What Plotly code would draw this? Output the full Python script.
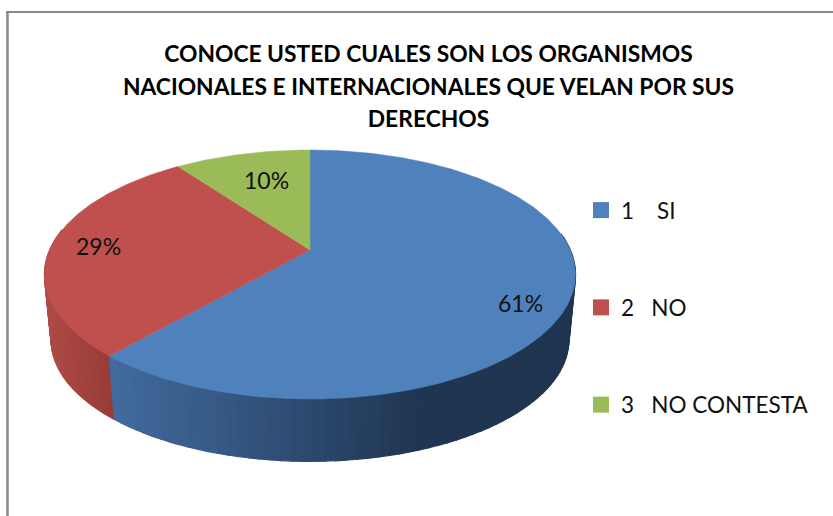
import math
import plotly.graph_objects as go

CATEGORIES = ["1", "2", "3"]
NB = "\u00a0"
LEGEND_NAMES = ["1" + NB * 4 + "SI", "2" + NB * 3 + "NO", "3" + NB * 3 + "NO CONTESTA"]
VALUES = [61.4, 28.6, 10.0]
TOP_COLORS = ["#4f81bd", "#c0504d", "#9bbb59"]
TITLE_LINES = [
    "CONOCE USTED CUALES SON LOS ORGANISMOS",
    "NACIONALES E INTERNACIONALES QUE VELAN POR SUS",
    "DERECHOS",
]

# pie geometry (pixel-space canvas)
CX, CY = 310.0, 250.0
A, B, K = 260.3, 119.7, 0.1968
BOTTOM_SCALE, BOTTOM_Y = 0.975, 316.0


def project(theta, r=1.0, scale=1.0, cy=CY):
    u, v = math.sin(theta) * r, math.cos(theta) * r
    d = 1 + K * v
    return CX + scale * A * u / d, cy - scale * B * v / d


def frange(a, b, step=0.01):
    n = max(2, int(abs(b - a) / step))
    return [a + (b - a) * i / n for i in range(n + 1)]


def lerp_color(stops, t):
    for (t0, c0), (t1, c1) in zip(stops, stops[1:]):
        if t <= t1:
            f = (t - t0) / (t1 - t0) if t1 > t0 else 0
            rgb = [round(c0[i] + (c1[i] - c0[i]) * f) for i in range(3)]
            return "rgb(%d,%d,%d)" % tuple(rgb)
    return "rgb(%d,%d,%d)" % tuple(stops[-1][1])


BLUE_WALL = [(0.0, (0x42, 0x6b, 0x9e)), (0.4, (0x2e, 0x4c, 0x73)), (0.7, (0x1f, 0x35, 0x50)), (1.0, (0x1f, 0x35, 0x50))]
RED_WALL = [(0.0, (0xa8, 0x47, 0x43)), (1.0, (0x96, 0x3c, 0x39))]

total = sum(VALUES)
bounds = [0.0]
for v in VALUES:
    bounds.append(bounds[-1] + v / total * 2 * math.pi)

fig = go.Figure()

# side wall: visible from the right-hand extreme round the front to the left extreme
WALL_START = math.radians(82)
WALL_END = math.radians(280)
N = 70
for idx, stops in ((1, RED_WALL), (0, BLUE_WALL)):
    a0 = max(bounds[idx], WALL_START)
    a1 = min(bounds[idx + 1], WALL_END)
    x_left = min(project(a0)[0], project(a1)[0])
    x_right = max(project(a0)[0], project(a1)[0])
    for i in range(N):
        t0 = a0 + (a1 - a0) * i / N
        t1 = a0 + (a1 - a0) * (i + 1) / N
        top = [project(t) for t in (t0, t1)]
        bot = [project(t, scale=BOTTOM_SCALE, cy=BOTTOM_Y) for t in (t1, t0)]
        pts = top + bot + top[:1]
        f = ((top[0][0] + top[1][0]) / 2 - x_left) / (x_right - x_left)
        col = lerp_color(stops, f)
        fig.add_trace(go.Scatter(
            x=[p[0] for p in pts], y=[p[1] for p in pts], mode="lines",
            fill="toself", fillcolor=col, line=dict(color=col, width=1.3),
            hoverinfo="skip", showlegend=False))

# top face
for i, col in enumerate(TOP_COLORS):
    pts = [project(t) for t in frange(bounds[i], bounds[i + 1])]
    xs = [CX] + [p[0] for p in pts] + [CX]
    ys = [CY] + [p[1] for p in pts] + [CY]
    fig.add_trace(go.Scatter(
        x=xs, y=ys, mode="lines", fill="toself", fillcolor=col,
        line=dict(color=col, width=0.5), name=CATEGORIES[i],
        hoverinfo="skip", showlegend=False))

# data labels
LABEL_R = [0.80, 0.78, 0.72]
LABEL_NUDGE = [(4, 17), (-10, 0), (8, 2)]
for i, v in enumerate(VALUES):
    x, y = project((bounds[i] + bounds[i + 1]) / 2, LABEL_R[i])
    fig.add_annotation(
        x=x + LABEL_NUDGE[i][0], y=y + LABEL_NUDGE[i][1], text=f"{v:.0f}%", showarrow=False,
        font=dict(family="Lato", size=23, color="#111111"))

# legend entries
for name, col in zip(LEGEND_NAMES, TOP_COLORS):
    fig.add_trace(go.Scatter(
        x=[None], y=[None], mode="markers", name=name, legendgroup=name,
        marker=dict(symbol="square", size=16, color=col)))

title_text = "<br>".join(f'<span style="font-size:22.8px">{s}</span>' for s in TITLE_LINES)

fig.update_layout(
    width=833, height=516, margin=dict(l=0, r=0, t=0, b=0),
    paper_bgcolor="white", plot_bgcolor="white",
    title=dict(text=title_text, x=428.5 / 833, xanchor="center", y=1 - 62 / 516, yanchor="top",
               font=dict(family="Lato", size=25, color="#000000", weight="bold")),
    xaxis=dict(range=[0, 833], visible=False, fixedrange=True),
    yaxis=dict(range=[516, 0], visible=False, fixedrange=True),
    legend=dict(x=581 / 833, xanchor="left", y=1 - 189 / 516, yanchor="top",
                font=dict(family="Lato", size=22.5, color="#111111"),
                tracegroupgap=65, bgcolor="rgba(0,0,0,0)", itemsizing="trace"),
    shapes=[
        dict(type="line", xref="x", yref="y", x0=7.5, x1=7.5, y0=12, y1=516,
             line=dict(color="#898989", width=2.5)),
        dict(type="line", xref="x", yref="y", x0=6, x1=833, y0=12, y1=12,
             line=dict(color="#898989", width=2)),
    ],
)
fig.write_html("out.html", post_script="document.body.style.margin='0';",
               config={"displayModeBar": False})
